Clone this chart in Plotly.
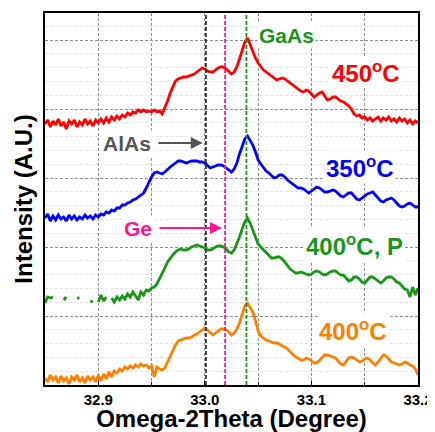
import numpy as np
import plotly.graph_objects as go

# Scan grid (Omega-2Theta, degree), step 0.0025 from 32.85 to 33.20
omega = np.round(np.arange(32.85, 33.2001, 0.0025), 4)

# Intensities (arbitrary units, vertically offset traces)
int_450 = [261, 265, 258, 264, 260, 266, 259, 263, 256, 264, 261, 265, 258, 263, 260, 266, 261, 264, 259, 265,
           262, 266, 262, 267, 263, 268, 265, 269, 266, 270, 268, 272, 270, 273, 272, 275, 273, 275, 273, 274, 273, 275, 273, 274, 271,
           277, 284, 292, 299, 304, 306, 307, 308, 308, 309, 310, 311, 313, 315, 317,
           316, 314, 313, 313, 315, 317, 318, 318, 316, 313, 311, 313, 318, 326, 335, 343,
           347, 340, 332, 327, 322, 318, 315, 313, 311, 309, 307, 305, 306, 307, 306, 304, 302, 300, 298, 296, 294, 293, 295, 294,
           291, 288, 290, 292, 293, 289, 285, 286, 288, 288, 286, 284, 283, 281, 279, 276, 271, 269, 270, 267, 268, 265, 267, 264, 266,
           268, 264, 267, 265, 268, 264, 266, 263, 267, 264, 266, 262, 265, 261, 264, 262]

int_350 = [167, 171, 164, 169, 165, 170, 166, 168, 164, 170, 166, 169, 165, 168, 166, 170, 167, 169, 166, 170,
           168, 171, 170, 173, 172, 175, 174, 177, 177, 180, 180, 182, 183, 185, 186, 188, 190, 192, 197, 203, 208, 212, 213, 212, 211,
           213, 216, 218, 220, 222, 224, 224, 223, 222, 223, 224, 224, 224, 223, 223,
           222, 219, 217, 218, 219, 220, 220, 219, 217, 215, 213, 216, 222, 231, 239, 246,
           249, 245, 240, 233, 225, 221, 217, 214, 212, 209, 207, 208, 210, 210, 208, 205, 203, 201, 199, 197, 197, 196, 194, 192,
           194, 196, 198, 197, 195, 193, 193, 194, 195, 194, 191, 189, 188, 190, 192, 192, 189, 186, 185, 187, 189, 191, 192, 193, 190,
           187, 184, 183, 185, 186, 187, 185, 182, 179, 178, 179, 181, 182, 180, 178, 178]

int_400P = [82, 88, 87, 88, None, None, None, 85, 88, None, None, None, 87, 87, None, None, None, 83, 84, None,
            83, 90, 84, 88, None,
            87, 83, 88, 85, 89, 86, 91, 88, 93, 89, 85, 93, 90, 95, 94, 97, 98, 101, 106, 111,
            117, 123, 127, 130, 133, 135, 136, 135, 135, 136, 138, 139, 140, 139, 138,
            137, 135, 135, 136, 138, 139, 139, 138, 136, 133, 132, 135, 141, 148, 156, 163,
            167, 162, 155, 147, 141, 138, 135, 133, 130, 127, 127, 128, 128, 126, 123, 119, 116, 114, 112, 112, 113, 112, 111, 110,
            111, 113, 114, 113, 111, 110, 111, 113, 114, 114, 112, 110, 110, 107, 104, 105, 108, 108, 106, 103, 102, 105, 108, 108, 106,
            104, 102, 104, 107, 108, 108, 106, 103, 102, 99, 96, 95, 88, 98, 90, 97]

int_400 = [7, 3, 10, 5, 8, 2, 9, 4, 7, 1, 8, 5, 10, 3, 7, 2, 9, 5, 8, 3,
           10, 4, 11, 6, 13, 8, 14, 12, 16, 14, 18, 16, 19, 17, 20, 18, 21, 19, 20, 17, 19, 8, 18, 16, 15,
           17, 23, 29, 35, 40, 44, 45, 46, 47, 47, 48, 50, 51, 53, 55,
           57, 55, 52, 50, 52, 54, 56, 56, 55, 53, 50, 52, 56, 62, 71, 79,
           82, 78, 73, 64, 54, 49, 47, 45, 44, 43, 42, 42, 41, 39, 38, 36, 33, 30, 28, 27, 25, 25, 27, 26,
           24, 22, 22, 25, 27, 30, 30, 29, 28, 27, 24, 21, 20, 23, 27, 28, 27, 25, 23, 24, 26, 27, 25, 22, 20,
           23, 27, 30, 29, 26, 23, 22, 21, 20, 21, 23, 22, 20, 19, 16, 10]

series_names = ["450°C", "350°C", "400°C, P", "400°C"]
series_colors = ["#ff0000", "#0000ff", "#179617", "#ff8000"]

# Reference peak positions (degree)
ref_names = ["AlAs", "Ge", "GaAs"]
ref_pos = [33.001, 33.019, 33.039]
ref_colors = ["#333333", "#ff1493", "#179617"]

FONT = "Arial, Liberation Sans, sans-serif"

fig = go.Figure()
for name, ys, col in zip(series_names, [int_450, int_350, int_400P, int_400], series_colors):
    fig.add_trace(go.Scatter(x=omega, y=ys, mode="lines", name=name,
                             line=dict(color=col, width=2.8), connectgaps=False,
                             showlegend=False))

for nm, pos, col in zip(ref_names, ref_pos, ref_colors):
    fig.add_vline(x=pos, line=dict(color=col, width=1.8, dash="4px,2px"))

# Labels
def lab(text, x, y, color, size):
    fig.add_annotation(x=x, y=y, xref="x", yref="y", text=f"<b>{text}</b>", showarrow=False,
                       font=dict(family=FONT, size=size, color=color), bgcolor="white",
                       borderpad=1)

lab("GaAs", 33.077, 350, "#179617", 21)
lab("450<sup>o</sup>C", 33.151, 313, "#ff0000", 24)
lab("350<sup>o</sup>C", 33.146, 218, "#0000ff", 24)
lab("400<sup>o</sup>C, P", 33.140, 140, "#179617", 24)
lab("400<sup>o</sup>C", 33.139, 55, "#ff8000", 24)
lab("AlAs", 32.927, 242, "#555555", 21)
lab("Ge", 32.937, 157, "#ff1493", 21)

# arrows
fig.add_annotation(x=32.998, y=242, ax=32.955, ay=242, xref="x", yref="y", axref="x", ayref="y",
                   text="", showarrow=True, arrowhead=2, arrowsize=1.2, arrowwidth=2, arrowcolor="#555555")
fig.add_annotation(x=33.016, y=157, ax=32.956, ay=157, xref="x", yref="y", axref="x", ayref="y",
                   text="", showarrow=True, arrowhead=2, arrowsize=1.2, arrowwidth=2, arrowcolor="#ff1493")

# page body adds an 8px offset, so the figure is sized 427x424 to fill the 435x432 window
fig.update_layout(
    width=427, height=424,
    margin=dict(l=37, r=17, t=5, b=47, autoexpand=False),
    plot_bgcolor="white", paper_bgcolor="white",
    font=dict(family=FONT, color="black"),
)
fig.update_xaxes(
    range=[32.85, 33.2], tickvals=[32.9, 33.0, 33.1, 33.2],
    ticktext=["<b>32.9</b>", "<b>33.0</b>", "<b>33.1</b>", "<b>33.2</b>"],
    tickfont=dict(size=15, family=FONT), ticks="inside", ticklen=4, tickcolor="black",
    showgrid=True, gridcolor="#8c8c8c", griddash="3px,2px", gridwidth=1,
    minor=dict(dtick=0.05, tick0=32.85, showgrid=True, gridcolor="#8c8c8c", griddash="3px,2px",
               ticks="inside", ticklen=3, tickcolor="black"),
    showline=True, linecolor="black", linewidth=2, mirror=True,
    title=dict(text="<b>Omega-2Theta (Degree)</b>", font=dict(size=24, family=FONT), standoff=3),
    zeroline=False, automargin=False,
)
fig.update_yaxes(
    range=[0, 372], tick0=0, dtick=69, showticklabels=False, ticks="",
    showgrid=True, gridcolor="#8c8c8c", griddash="3px,2px", gridwidth=1,
    minor=dict(dtick=13.8, tick0=0, showgrid=True, gridcolor="#e3e3e3", gridwidth=1),
    showline=True, linecolor="black", linewidth=2, mirror=True,
    title=dict(text="<b>Intensity (A.U.)</b>", font=dict(size=24, family=FONT), standoff=4),
    zeroline=False, automargin=False,
)

fig.write_html("out.html")
